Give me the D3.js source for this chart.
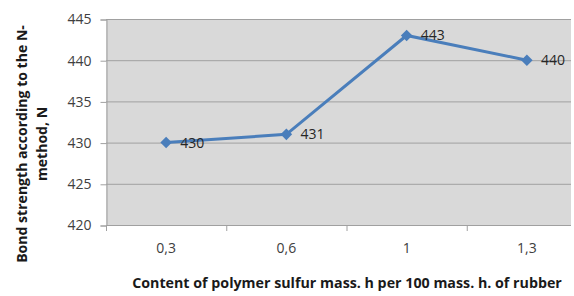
<!DOCTYPE html>
<html>
<head>
<meta charset="utf-8">
<script src="https://cdn.jsdelivr.net/npm/d3@7"></script>
<style>
  body { margin: 0; background: #fff; }
  text { font-family: "Open Sans", "Noto Sans", sans-serif; }
</style>
</head>
<body>
<div id="graph"></div>
<script>
// chart data
const categories = ["0,3", "0,6", "1", "1,3"];
const values = [430, 431, 443, 440];
const yTicks = [420, 425, 430, 435, 440, 445];

const W = 574, H = 296;
const mLeft = 106, mTop = 19, mRight = 571, mBottom = 225;

const svg = d3.select("#graph").append("svg")
    .attr("width", W)
    .attr("height", H);

// band range runs a bit past the visible right edge (image is cropped)
const x = d3.scaleBand().domain(categories).range([mLeft, 587]);
const y = d3.scaleLinear().domain([420, 445]).range([mBottom, mTop]);

// plot background
svg.append("rect")
    .attr("x", mLeft).attr("y", mTop)
    .attr("width", mRight - mLeft).attr("height", mBottom - mTop)
    .attr("fill", "#d9d9d9");

// gridlines
svg.append("g").selectAll("line")
  .data(yTicks)
  .join("line")
    .attr("x1", mLeft).attr("x2", mRight)
    .attr("y1", d => y(d) + 0.5).attr("y2", d => y(d) + 0.5)
    .attr("stroke", "#a0a0a0").attr("stroke-width", 1);

// Y axis
const yAxis = svg.append("g")
    .attr("transform", "translate(" + (mLeft + 0.5) + ",0.5)")
    .call(d3.axisLeft(y).tickValues(yTicks).tickSize(6).tickPadding(9).tickFormat(d3.format("d")));
yAxis.select(".domain").attr("stroke", "#a0a0a0");
yAxis.selectAll(".tick line").attr("stroke", "#a0a0a0");
yAxis.selectAll("text").attr("font-size", 14).attr("fill", "#404040")
    .attr("font-family", "'Open Sans', sans-serif");

// X axis
const xAxis = svg.append("g")
    .attr("transform", "translate(0," + (mBottom + 0.5) + ")")
    .call(d3.axisBottom(x).tickSize(0).tickPadding(18));
xAxis.select(".domain").attr("stroke", "#a0a0a0").attr("d", "M" + mLeft + ",0H" + mRight);
xAxis.selectAll("text").attr("font-size", 14).attr("fill", "#404040")
    .attr("font-family", "'Open Sans', sans-serif");
// ticks between categories
svg.append("g").selectAll("line")
  .data(categories)
  .join("line")
    .attr("x1", d => x(d) + 0.5).attr("x2", d => x(d) + 0.5)
    .attr("y1", mBottom).attr("y2", mBottom + 6)
    .attr("stroke", "#a0a0a0");

// line
const pts = categories.map((c, i) => ({c: c, v: values[i]}));
const line = d3.line()
    .x(d => x(d.c) + x.bandwidth() / 2)
    .y(d => y(d.v));
svg.append("path")
    .datum(pts)
    .attr("d", line)
    .attr("fill", "none")
    .attr("stroke", "#4a7ebb")
    .attr("stroke-width", 3);

// diamond markers
svg.append("g").selectAll("path")
  .data(pts)
  .join("path")
    .attr("d", d3.symbol().type(d3.symbolDiamond2).size(85))
    .attr("transform", d => "translate(" + (x(d.c) + x.bandwidth() / 2) + "," + y(d.v) + ")")
    .attr("fill", "#4a7ebb");

// data labels
svg.append("g").selectAll("text")
  .data(pts)
  .join("text")
    .attr("x", d => x(d.c) + x.bandwidth() / 2 + 14)
    .attr("y", d => y(d.v) + 5)
    .attr("font-size", 14)
    .attr("fill", "#262626")
    .text(d => d.v);

// fit a text to a given width by adjusting font size
function fit(sel, w) {
  const len = sel.node().getComputedTextLength();
  const fs = +sel.attr("font-size");
  sel.attr("font-size", fs * w / len);
}

// axis titles
const xt = svg.append("text")
    .attr("x", 347).attr("y", 288)
    .attr("text-anchor", "middle")
    .attr("font-size", 12).attr("font-weight", "bold").attr("fill", "#1a1a1a")
    .text("Content of polymer sulfur mass. h per 100 mass. h. of rubber");
fit(xt, 430);

const yt = svg.append("g").attr("transform", "translate(27,144) rotate(-90)");
const yt1 = yt.append("text")
    .attr("text-anchor", "middle")
    .attr("font-size", 12).attr("font-weight", "bold").attr("fill", "#1a1a1a")
    .text("Bond strength according to the N-");
fit(yt1, 238);
yt.append("text")
    .attr("y", 20)
    .attr("text-anchor", "middle")
    .attr("font-size", yt1.attr("font-size")).attr("font-weight", "bold").attr("fill", "#1a1a1a")
    .text("method, N");
</script>
</body>
</html>
